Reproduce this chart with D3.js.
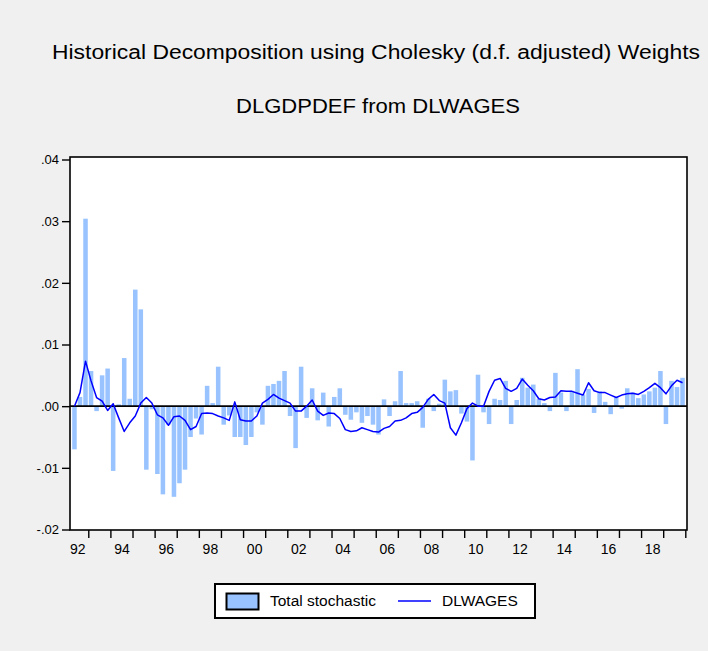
<!DOCTYPE html>
<html>
<head>
<meta charset="utf-8">
<script src="https://cdn.jsdelivr.net/npm/d3@7"></script>
<style>
  html, body { margin: 0; padding: 0; background: #f0f0f0; }
  svg { display: block; }
  text { font-family: "Liberation Sans", Arial, sans-serif; fill: #000; }
</style>
</head>
<body>
<svg id="chart" width="708" height="651"></svg>
<script>
// ---------------- DATA ----------------
const startYear = 1992, startQuarter = 2, nObs = 111; // 1992Q2 .. 2019Q4
const periods = [];
for (let i = 0; i < nObs; i++) {
  const q0 = startQuarter - 1 + i;
  periods.push(`${startYear + Math.floor(q0 / 4)}Q${(q0 % 4) + 1}`);
}

const totalStochastic = [
  -0.0070, 0.0015, 0.0304, 0.0057, -0.0008, 0.0050, 0.0061, -0.0105, 0.0003, 0.0078,
  0.0012, 0.0189, 0.0157, -0.0103, -0.0005, -0.0110, -0.0143, -0.0030, -0.0147, -0.0125,
  -0.0103, -0.0050, -0.0020, -0.0046, 0.0033, 0.0005, 0.0064, -0.0030, -0.0015, -0.0050,
  -0.0050, -0.0063, -0.0050, -0.0010, -0.0030, 0.0033, 0.0036, 0.0041, 0.0057, -0.0016,
  -0.0068, 0.0064, -0.0019, 0.0029, -0.0023, 0.0022, -0.0033, 0.0015, 0.0029, -0.0014,
  -0.0022, -0.0010, -0.0027, -0.0016, -0.0030, -0.0046, 0.0011, -0.0016, 0.0008, 0.0057,
  0.0005, 0.0005, 0.0008, -0.0035, 0.0012, -0.0008, 0.0004, 0.0043, 0.0024, 0.0026,
  -0.0012, -0.0025, -0.0088, 0.0051, -0.0010, -0.0029, 0.0012, 0.0010, 0.0041, -0.0029,
  0.0010, 0.0046, 0.0030, 0.0035, 0.0012, 0.0005, -0.0008, 0.0054, 0.0022, -0.0008,
  0.0025, 0.0060, 0.0019, 0.0028, -0.0011, 0.0024, 0.0007, -0.0013, 0.0014, -0.0004,
  0.0029, 0.0022, 0.0013, 0.0019, 0.0024, 0.0030, 0.0057, -0.0029, 0.0041, 0.0031,
  0.0046
];

const dlwages = [
  0.0000, 0.0022, 0.0073, 0.0041, 0.0014, 0.0008, -0.0007, 0.0004, -0.0019, -0.0041,
  -0.0027, -0.0016, 0.0005, 0.0014, 0.0005, -0.0014, -0.0019, -0.0031, -0.0017, -0.0016,
  -0.0023, -0.0038, -0.0033, -0.0012, -0.0011, -0.0012, -0.0016, -0.0019, -0.0023, 0.0007,
  -0.0022, -0.0024, -0.0024, -0.0016, 0.0005, 0.0011, 0.0019, 0.0013, 0.0009, 0.0005,
  -0.0008, -0.0008, 0.0000, 0.0010, -0.0008, -0.0015, -0.0011, -0.0012, -0.0020, -0.0038,
  -0.0041, -0.0040, -0.0035, -0.0038, -0.0041, -0.0042, -0.0036, -0.0033, -0.0024, -0.0023,
  -0.0019, -0.0012, -0.0010, -0.0002, 0.0011, 0.0019, 0.0009, 0.0005, -0.0035, -0.0047,
  -0.0027, -0.0004, 0.0005, 0.0000, 0.0000, 0.0024, 0.0042, 0.0045, 0.0029, 0.0024,
  0.0029, 0.0044, 0.0034, 0.0025, 0.0012, 0.0010, 0.0014, 0.0015, 0.0025, 0.0024,
  0.0024, 0.0021, 0.0018, 0.0038, 0.0025, 0.0022, 0.0022, 0.0018, 0.0014, 0.0018,
  0.0020, 0.0021, 0.0019, 0.0024, 0.0030, 0.0037, 0.0030, 0.0020, 0.0033, 0.0042,
  0.0038
];

const yTickValues = [0.04, 0.03, 0.02, 0.01, 0.00, -0.01, -0.02];
const yTickLabels = [".04", ".03", ".02", ".01", ".00", "-.01", "-.02"];
const xTickYears  = [1993,1994,1995,1996,1997,1998,1999,2000,2001,2002,2003,2004,2005,2006,
                     2007,2008,2009,2010,2011,2012,2013,2014,2015,2016,2017,2018,2019,2020];
const xLabelYears = [1992,1994,1996,1998,2000,2002,2004,2006,2008,2010,2012,2014,2016,2018];
const xLabels     = ["92","94","96","98","00","02","04","06","08","10","12","14","16","18"];

const title = "Historical Decomposition using Cholesky (d.f. adjusted) Weights";
const subtitle = "DLGDPDEF from DLWAGES";
const seriesNames = ["Total stochastic", "DLWAGES"];

// ---------------- LAYOUT ----------------
const svg = d3.select("#chart");
const frame = { left: 70, right: 687, top: 157, bottom: 530 };
const barColor = "#99c3ff";
const lineColor = "#0000ff";

// time in years: start of each quarter
const tOf = p => +p.slice(0, 4) + (+p.slice(5) - 1) / 4;
const x = d3.scaleLinear().domain([1992.25, 2020]).range([71.7, 685.3]);
const y = d3.scaleLinear().domain([-0.02, 0.04]).range([529.5, 159.5]);
const step = x(1992.5) - x(1992.25);

// plot area
svg.append("rect")
  .attr("x", frame.left).attr("y", frame.top)
  .attr("width", frame.right - frame.left).attr("height", frame.bottom - frame.top)
  .attr("fill", "#ffffff");

// title
svg.append("text").attr("x", 376).attr("y", 59).attr("text-anchor", "middle")
  .attr("font-size", 20).attr("textLength", 648).attr("lengthAdjust", "spacingAndGlyphs")
  .text(title);
svg.append("text").attr("x", 378).attr("y", 113).attr("text-anchor", "middle")
  .attr("font-size", 20).attr("textLength", 284).attr("lengthAdjust", "spacingAndGlyphs")
  .text(subtitle);

// bars
const bw = step * 0.82;
svg.append("g").selectAll("rect")
  .data(periods.map((p, i) => ({ p, v: totalStochastic[i] })))
  .join("rect")
  .attr("x", d => x(tOf(d.p)) + (step - bw) / 2)
  .attr("width", bw)
  .attr("y", d => Math.min(y(d.v), y(0)))
  .attr("height", d => Math.abs(y(d.v) - y(0)))
  .attr("fill", barColor);

// zero line
svg.append("line")
  .attr("x1", frame.left).attr("x2", frame.right)
  .attr("y1", y(0)).attr("y2", y(0))
  .attr("stroke", "#000").attr("stroke-width", 1.6);

// line series
const line = d3.line()
  .x(d => x(tOf(d.p) + 0.125))
  .y(d => y(d.v));
svg.append("path")
  .datum(periods.map((p, i) => ({ p, v: dlwages[i] })))
  .attr("d", line)
  .attr("fill", "none")
  .attr("stroke", lineColor)
  .attr("stroke-width", 1.5)
  .attr("stroke-linejoin", "round");

// frame
svg.append("rect")
  .attr("x", frame.left).attr("y", frame.top)
  .attr("width", frame.right - frame.left).attr("height", frame.bottom - frame.top)
  .attr("fill", "none").attr("stroke", "#000").attr("stroke-width", 1.6);

// y axis
const yAxis = d3.axisLeft(y)
  .tickValues(yTickValues)
  .tickSize(8).tickPadding(3)
  .tickFormat((d, i) => yTickLabels[i]);
const gy = svg.append("g").attr("transform", `translate(${frame.left},0)`).call(yAxis);
gy.select(".domain").remove();
gy.selectAll(".tick line").attr("stroke", "#000").attr("stroke-width", 1.4);
gy.selectAll(".tick text").attr("font-size", 13).attr("font-family", "'Liberation Sans', Arial, sans-serif");

// x axis ticks (year boundaries)
const xAxisTicks = d3.axisBottom(x).tickValues(xTickYears).tickSize(8).tickFormat("");
const gx = svg.append("g").attr("transform", `translate(0,${frame.bottom})`).call(xAxisTicks);
gx.select(".domain").remove();
gx.selectAll(".tick line").attr("stroke", "#000").attr("stroke-width", 1.4);

// x labels centred in years
const xAxisLabels = d3.axisBottom(x)
  .tickValues(xLabelYears.map(v => v + 0.5))
  .tickSize(0).tickPadding(14)
  .tickFormat((d, i) => xLabels[i]);
const gxl = svg.append("g").attr("transform", `translate(0,${frame.bottom})`).call(xAxisLabels);
gxl.select(".domain").remove();
gxl.selectAll(".tick text").attr("font-size", 14).attr("font-family", "'Liberation Sans', Arial, sans-serif");

// legend
const lg = svg.append("g");
lg.append("rect").attr("x", 215).attr("y", 584).attr("width", 320).attr("height", 34)
  .attr("fill", "#ffffff").attr("stroke", "#000").attr("stroke-width", 2);
lg.append("rect").attr("x", 226.5).attr("y", 593.5).attr("width", 32).attr("height", 16)
  .attr("fill", barColor).attr("stroke", "#000").attr("stroke-width", 2);
lg.append("text").attr("x", 270).attr("y", 606).attr("font-size", 15.5).text(seriesNames[0]);
lg.append("line").attr("x1", 398).attr("x2", 431).attr("y1", 601).attr("y2", 601)
  .attr("stroke", lineColor).attr("stroke-width", 1.5);
lg.append("text").attr("x", 442).attr("y", 606).attr("font-size", 15.5).text(seriesNames[1]);
</script>
</body>
</html>
